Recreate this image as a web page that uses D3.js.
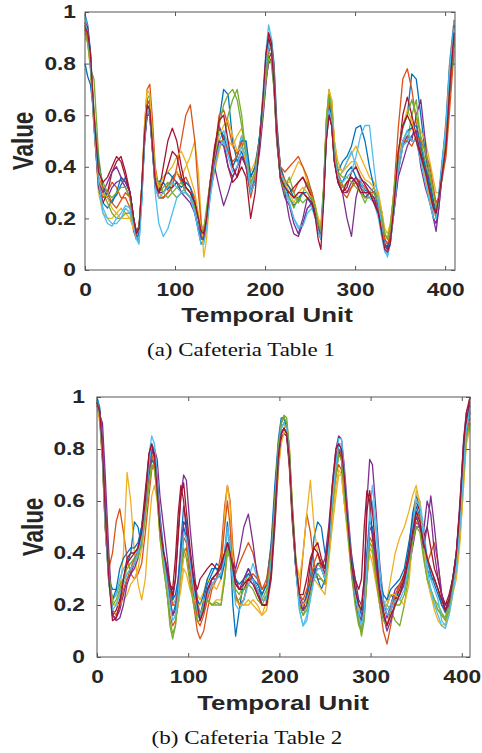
<!DOCTYPE html>
<html><head><meta charset="utf-8">
<script src="https://cdn.jsdelivr.net/npm/d3@7"></script>
<style>html,body{margin:0;padding:0;background:#fff;}svg{display:block;}</style>
</head><body>
<svg id="c" width="482" height="753"></svg>
<script>
const colors = ["#0072BD","#D95319","#EDB120","#7E2F8E","#77AC30","#4DBEEE","#A2142F"];
const yTicks = [0,0.2,0.4,0.6,0.8,1];
const yTickLabels = ["0","0.2","0.4","0.6","0.8","1"];
const xTicks = [0,100,200,300,400];
const xTickLabels = ["0","100","200","300","400"];
const xLabel = "Temporal Unit";
const yLabel = "Value";
const captionA = "(a) Cafeteria Table 1";
const captionB = "(b) Cafeteria Table 2";

// Panel (a): temporal positions
const xA = [0,3,6,10,15,20,25,30,35,40, 45,50,54,57,60,63,66,69,72,75, 78,82,87,92,97,102,107,112,117,122,
 126,129,132,135,139,144,149,154,159,164, 169,174,179,184,189,194,198,201,204,207, 210,213,217,222,227,232,237,242,247,252,
 256,259,262,265,268,271,274,277,281,286, 291,296,301,306,311,316,321,326,330,333, 336,339,343,348,353,358,363,368,373,378,
 383,387,390,393,397,401,405,410];
const seriesA = [
[.99,.95,.85,.6,.34,.26,.24,.27,.29,.33, .36,.3,.2,.12,.12,.28,.52,.64,.66,.52, .36,.32,.34,.31,.36,.38,.35,.3,.28,.22,
 .15,.1,.12,.18,.32,.45,.58,.7,.68,.5, .42,.46,.4,.3,.36,.52,.68,.8,.88,.9, .8,.58,.4,.33,.28,.25,.27,.3,.28,.25,
 .2,.15,.12,.28,.55,.66,.62,.44,.36,.34, .38,.4,.36,.33,.31,.3,.28,.22,.15,.1, .08,.12,.26,.45,.55,.6,.76,.74,.6,.45,
 .35,.27,.22,.26,.42,.55,.75,.95],
[.96,.92,.8,.55,.33,.28,.3,.34,.32,.28, .28,.24,.15,.12,.14,.32,.55,.7,.72,.58, .4,.32,.3,.33,.35,.38,.34,.36,.32,.28,
 .2,.14,.13,.2,.32,.46,.6,.62,.56,.48, .45,.52,.46,.3,.35,.48,.62,.76,.84,.88, .78,.56,.4,.35,.32,.3,.34,.36,.33,.29,
 .24,.18,.14,.3,.56,.68,.66,.5,.38,.33, .3,.32,.36,.34,.32,.3,.3,.28,.22,.14, .12,.16,.3,.55,.74,.78,.7,.58,.46,.38,
 .3,.24,.2,.26,.42,.58,.8,.97],
[.95,.9,.78,.56,.3,.22,.2,.2,.22,.24, .22,.2,.16,.14,.16,.3,.5,.6,.62,.5, .38,.3,.28,.3,.34,.38,.36,.4,.44,.5,
 .38,.2,.05,.12,.3,.38,.46,.52,.5,.48, .52,.55,.48,.38,.42,.5,.62,.74,.82,.84, .72,.52,.38,.34,.34,.38,.42,.4,.34,.3,
 .25,.2,.18,.32,.55,.64,.62,.5,.42,.38, .42,.45,.48,.44,.4,.36,.34,.3,.22,.16, .14,.18,.28,.45,.5,.52,.55,.58,.54,.5,
 .42,.35,.3,.3,.38,.5,.7,.9],
[.95,.92,.82,.58,.36,.3,.28,.32,.34,.35, .32,.28,.18,.14,.15,.3,.48,.6,.6,.46, .32,.28,.28,.3,.32,.34,.3,.3,.28,.24,
 .2,.16,.16,.22,.3,.4,.32,.25,.3,.36, .4,.44,.42,.36,.4,.5,.62,.74,.8,.82, .72,.52,.35,.28,.25,.18,.14,.2,.28,.26,
 .22,.16,.14,.28,.5,.6,.56,.42,.35,.3, .2,.13,.28,.35,.34,.32,.3,.25,.18,.12, .1,.12,.22,.38,.48,.52,.5,.6,.66,.5,
 .3,.2,.15,.24,.38,.48,.68,.88],
[.94,.88,.78,.74,.45,.3,.26,.22,.2,.2, .22,.22,.17,.14,.16,.3,.52,.66,.68,.52, .36,.3,.32,.34,.3,.28,.3,.32,.3,.26,
 .2,.14,.15,.22,.32,.42,.5,.5,.6,.66, .7,.6,.44,.32,.38,.52,.66,.78,.84,.84, .72,.52,.36,.32,.36,.3,.26,.3,.34,.3,
 .24,.18,.14,.3,.58,.7,.64,.48,.36,.32, .34,.36,.34,.3,.26,.3,.32,.28,.2,.14, .12,.16,.28,.4,.48,.5,.6,.66,.5,.42,
 .36,.3,.26,.28,.36,.48,.68,.9],
[.98,.94,.84,.58,.32,.22,.18,.17,.2,.22, .25,.24,.18,.12,.1,.26,.48,.62,.62,.48, .3,.18,.13,.16,.22,.28,.3,.32,.3,.24,
 .16,.12,.12,.18,.28,.4,.5,.54,.48,.4, .44,.52,.46,.32,.38,.52,.7,.85,.95,.9, .74,.52,.36,.3,.26,.2,.16,.18,.24,.25,
 .2,.15,.12,.3,.54,.64,.6,.44,.36,.38, .42,.46,.4,.35,.3,.28,.26,.2,.12,.07, .06,.1,.22,.38,.48,.5,.52,.54,.44,.36,
 .28,.22,.22,.3,.44,.56,.8,.96],
[.96,.94,.84,.56,.32,.26,.3,.38,.42,.44, .38,.3,.2,.15,.17,.32,.5,.62,.6,.46, .32,.3,.4,.5,.55,.5,.4,.32,.3,.26,
 .2,.16,.15,.22,.34,.48,.56,.5,.4,.34, .36,.44,.4,.3,.34,.48,.66,.82,.92,.88, .7,.5,.36,.3,.3,.32,.34,.36,.32,.28,
 .22,.16,.12,.3,.55,.62,.56,.42,.34,.3, .32,.38,.4,.36,.33,.3,.26,.22,.16,.1, .09,.12,.24,.44,.6,.67,.6,.52,.45,.4,
 .32,.26,.22,.28,.4,.5,.7,.9],
[.8,.75,.72,.6,.42,.32,.28,.26,.3,.36, .34,.3,.2,.13,.14,.28,.5,.62,.64,.5, .36,.34,.36,.38,.36,.34,.32,.34,.32,.26,
 .2,.13,.12,.18,.3,.42,.55,.52,.46,.4, .44,.5,.5,.36,.4,.52,.66,.8,.88,.86, .74,.54,.4,.34,.32,.28,.28,.3,.3,.27,
 .22,.17,.14,.3,.54,.64,.6,.46,.38,.42, .44,.48,.55,.56,.5,.4,.32,.24,.16,.1, .08,.12,.24,.4,.5,.54,.55,.56,.48,.4,
 .32,.26,.22,.28,.42,.55,.78,.95],
[.93,.9,.8,.58,.36,.32,.3,.26,.24,.27, .3,.28,.18,.14,.16,.3,.52,.66,.64,.5, .36,.28,.28,.3,.32,.4,.5,.6,.64,.5,
 .3,.18,.14,.2,.3,.4,.48,.5,.46,.42, .44,.5,.4,.28,.36,.5,.64,.8,.9,.86, .72,.52,.4,.38,.4,.42,.44,.4,.36,.3,
 .24,.17,.13,.28,.52,.66,.62,.46,.36,.3, .28,.32,.34,.32,.3,.3,.28,.24,.18,.12, .1,.14,.26,.4,.5,.5,.48,.52,.5,.46,
 .4,.32,.26,.28,.36,.44,.62,.85],
[.9,.88,.8,.56,.36,.3,.28,.24,.22,.2, .2,.2,.16,.14,.16,.32,.55,.7,.68,.52, .38,.32,.36,.38,.4,.44,.46,.42,.36,.3,
 .22,.16,.16,.22,.34,.44,.52,.56,.58,.52, .46,.48,.42,.34,.38,.5,.62,.74,.82,.82, .7,.52,.38,.34,.3,.26,.3,.32,.3,.28,
 .24,.2,.16,.3,.56,.7,.66,.5,.4,.38, .4,.42,.42,.38,.35,.34,.32,.28,.2,.14, .12,.16,.3,.44,.56,.62,.58,.5,.42,.36,
 .28,.2,.2,.26,.4,.52,.72,.9],
[.95,.93,.82,.58,.34,.3,.34,.38,.4,.36, .34,.3,.2,.15,.16,.3,.5,.6,.6,.46, .34,.3,.3,.32,.32,.34,.3,.28,.26,.22,
 .16,.12,.12,.18,.3,.42,.5,.48,.4,.36, .4,.44,.4,.3,.34,.46,.6,.72,.82,.84, .74,.54,.38,.3,.2,.14,.13,.18,.24,.26,
 .22,.17,.14,.28,.52,.62,.58,.44,.34,.3, .3,.34,.36,.32,.28,.3,.28,.22,.14,.09, .08,.1,.22,.36,.42,.48,.52,.54,.4,.32,
 .26,.2,.18,.24,.38,.5,.7,.92],
[.92,.88,.8,.62,.4,.34,.3,.28,.3,.32, .32,.28,.18,.14,.16,.3,.5,.64,.62,.48, .36,.34,.3,.28,.3,.32,.34,.3,.28,.24,
 .2,.15,.16,.24,.34,.44,.56,.64,.68,.7, .66,.56,.44,.34,.38,.5,.62,.74,.82,.8, .7,.5,.36,.3,.28,.24,.28,.26,.28,.28,
 .24,.18,.15,.32,.58,.68,.62,.46,.38,.36, .36,.34,.32,.3,.28,.28,.3,.26,.2,.14, .12,.16,.3,.46,.56,.6,.66,.6,.52,.46,
 .38,.3,.24,.28,.4,.52,.7,.88],
[.96,.92,.82,.56,.34,.24,.2,.18,.18,.2, .24,.22,.17,.12,.11,.26,.5,.62,.6,.46, .32,.28,.3,.32,.34,.32,.3,.3,.28,.22,
 .15,.1,.1,.16,.28,.4,.48,.5,.44,.38, .4,.48,.44,.3,.34,.5,.66,.8,.88,.86, .72,.52,.38,.32,.26,.2,.17,.17,.22,.24,
 .2,.15,.12,.28,.52,.62,.58,.44,.36,.34, .36,.38,.44,.52,.56,.56,.4,.26,.16,.08, .05,.1,.22,.4,.5,.54,.5,.5,.42,.34,
 .26,.2,.2,.28,.42,.56,.78,.94],
[.94,.92,.84,.6,.38,.34,.36,.4,.44,.42, .36,.3,.2,.14,.16,.32,.52,.64,.62,.48, .34,.3,.34,.4,.46,.44,.36,.32,.3,.26,
 .2,.15,.14,.2,.34,.46,.58,.6,.5,.4, .36,.4,.36,.2,.3,.5,.68,.84,.9,.86, .72,.52,.36,.32,.3,.28,.3,.3,.28,.26,
 .2,.12,.08,.26,.5,.6,.56,.42,.34,.3, .34,.36,.34,.3,.3,.3,.26,.22,.14,.08, .07,.1,.24,.46,.56,.6,.56,.5,.44,.38,
 .3,.24,.22,.28,.38,.48,.7,.92]
];

// Panel (b): temporal positions
const xB = [0,3,6,9,13,17,21,25,29,33, 37,41,45,49,53,57,60,63,66,69, 73,77,80,83,86,89,92,95,98,102,
 106,110,113,117,121,126,131,136,140,143, 146,149,152,156,161,166,171,176,181,186, 191,195,199,202,205,208,211,214,218,222,
 226,230,234,238,242,246,250,254,258,262, 265,268,271,275,279,283,287,290,293,296, 299,302,306,310,314,318,322,327,332,337,
 342,346,350,354,358,362,366,370,374,378, 382,386,390,394,398,402,405,409];
const seriesB = [
[1.0,.96,.82,.56,.3,.26,.26,.24,.3,.36, .4,.52,.5,.42,.55,.72,.8,.8,.68,.52, .4,.3,.22,.16,.2,.3,.44,.58,.52,.4,
 .3,.2,.16,.22,.28,.32,.36,.34,.4,.52, .4,.2,.08,.18,.3,.34,.3,.26,.24,.28, .44,.66,.84,.92,.92,.9,.76,.56,.35,.2,
 .18,.2,.3,.46,.52,.5,.4,.42,.58,.7, .78,.8,.7,.52,.36,.26,.2,.16,.22,.38, .5,.48,.36,.24,.18,.2,.24,.22,.24,.3,
 .42,.55,.62,.58,.46,.34,.3,.3,.26,.2, .17,.2,.28,.36,.52,.74,.9,.97],
[.98,.94,.8,.55,.34,.4,.52,.57,.48,.38, .32,.3,.32,.36,.48,.62,.72,.74,.66,.52, .36,.24,.16,.12,.14,.2,.3,.4,.42,.3,
 .2,.1,.07,.1,.18,.26,.3,.4,.58,.66, .6,.42,.32,.36,.4,.44,.4,.32,.26,.3, .42,.58,.78,.86,.86,.85,.72,.52,.34,.24,
 .4,.55,.48,.36,.3,.3,.28,.42,.58,.7, .74,.72,.6,.48,.34,.22,.14,.1,.16,.3, .42,.4,.3,.2,.1,.05,.12,.22,.28,.32,
 .38,.45,.52,.5,.42,.36,.4,.44,.36,.24, .18,.2,.28,.4,.56,.78,.9,.94],
[.97,.9,.75,.5,.28,.2,.2,.25,.4,.71, .6,.4,.28,.22,.3,.5,.62,.66,.6,.48, .38,.3,.25,.2,.22,.24,.3,.38,.4,.36,
 .3,.24,.22,.25,.3,.28,.26,.3,.55,.66, .58,.36,.24,.2,.2,.22,.2,.18,.16,.22, .36,.54,.74,.84,.88,.9,.8,.6,.38,.3,
 .4,.55,.68,.5,.4,.36,.32,.38,.5,.62, .7,.7,.6,.48,.38,.3,.2,.2,.25,.36, .42,.4,.3,.22,.2,.22,.3,.4,.46,.5,
 .56,.62,.66,.58,.42,.3,.24,.2,.18,.16, .15,.2,.26,.34,.46,.66,.84,.9],
[.97,.93,.9,.7,.4,.16,.15,.18,.24,.3, .32,.36,.42,.5,.6,.7,.78,.8,.76,.62, .5,.38,.28,.22,.3,.48,.62,.7,.68,.5,
 .35,.22,.16,.2,.26,.3,.3,.32,.36,.42, .4,.36,.34,.4,.5,.55,.44,.3,.22,.22, .34,.52,.74,.84,.86,.85,.74,.56,.36,.24,
 .2,.22,.28,.32,.34,.34,.38,.5,.66,.8, .85,.84,.74,.56,.4,.3,.22,.2,.3,.6, .76,.74,.56,.36,.22,.15,.2,.26,.28,.3,
 .34,.42,.5,.5,.48,.6,.55,.4,.3,.24, .2,.22,.3,.4,.6,.82,.92,.94],
[.98,.95,.82,.58,.32,.22,.24,.28,.3,.32, .34,.36,.4,.46,.56,.7,.76,.74,.64,.5, .36,.24,.12,.07,.12,.24,.36,.48,.46,.34,
 .24,.16,.15,.18,.22,.2,.2,.2,.3,.4, .38,.3,.26,.24,.28,.32,.3,.26,.22,.26, .38,.58,.82,.9,.93,.92,.8,.6,.38,.2,
 .16,.2,.28,.34,.36,.34,.3,.4,.56,.7, .78,.76,.66,.5,.34,.22,.14,.08,.14,.3, .44,.42,.32,.24,.2,.2,.18,.14,.12,.2,
 .32,.44,.55,.5,.4,.3,.26,.22,.2,.17, .15,.2,.26,.34,.5,.72,.86,.9],
[.99,.94,.78,.52,.28,.22,.24,.3,.34,.36, .36,.38,.42,.5,.62,.78,.85,.82,.7,.55, .42,.32,.24,.2,.22,.28,.4,.52,.5,.4,
 .3,.2,.16,.2,.26,.3,.32,.34,.4,.5, .44,.32,.24,.2,.22,.3,.36,.3,.24,.22, .36,.56,.78,.88,.9,.9,.78,.56,.34,.18,
 .12,.16,.24,.32,.36,.36,.34,.44,.62,.76, .84,.84,.72,.54,.38,.26,.18,.14,.2,.4, .56,.66,.52,.34,.22,.18,.2,.24,.24,.28,
 .36,.48,.56,.6,.5,.38,.3,.26,.22,.14, .12,.18,.26,.34,.5,.72,.9,.96],
[.98,.94,.8,.55,.3,.16,.18,.22,.3,.36, .38,.4,.42,.5,.64,.78,.82,.76,.64,.5, .4,.32,.28,.26,.38,.55,.66,.6,.48,.38,
 .3,.26,.3,.32,.34,.36,.34,.34,.4,.44, .4,.36,.3,.26,.26,.3,.3,.26,.2,.2, .34,.56,.8,.86,.88,.86,.74,.54,.34,.2,
 .18,.24,.36,.42,.44,.38,.34,.46,.62,.78, .8,.76,.66,.5,.38,.3,.26,.3,.5,.64, .6,.46,.34,.26,.2,.16,.18,.22,.26,.32,
 .4,.52,.6,.56,.46,.5,.42,.34,.3,.24, .2,.24,.3,.38,.54,.76,.9,1.0],
[.99,.92,.76,.5,.3,.22,.26,.34,.38,.4, .42,.42,.44,.5,.58,.7,.76,.74,.64,.5, .4,.34,.26,.22,.24,.3,.4,.5,.46,.36,
 .28,.22,.2,.24,.3,.34,.34,.3,.36,.44, .4,.34,.3,.28,.3,.32,.3,.28,.24,.28, .42,.62,.82,.9,.92,.88,.76,.55,.34,.22,
 .2,.24,.3,.34,.3,.26,.3,.44,.6,.74, .8,.78,.68,.52,.38,.26,.2,.18,.24,.4, .52,.5,.4,.3,.24,.22,.26,.28,.3,.34,
 .44,.52,.58,.54,.46,.38,.32,.28,.24,.2, .18,.22,.3,.4,.54,.74,.88,.94],
[.97,.92,.76,.5,.3,.18,.16,.2,.26,.3, .34,.38,.4,.46,.58,.72,.78,.74,.62,.48, .38,.3,.25,.2,.2,.26,.34,.46,.44,.34,
 .24,.14,.12,.16,.22,.28,.3,.36,.5,.6, .5,.3,.24,.2,.22,.3,.32,.3,.26,.28, .4,.6,.8,.88,.9,.88,.76,.56,.36,.24,
 .22,.26,.3,.36,.4,.34,.3,.46,.62,.76, .8,.78,.66,.5,.34,.22,.16,.14,.2,.34, .46,.44,.34,.22,.16,.12,.18,.24,.28,.3,
 .38,.48,.56,.54,.44,.38,.34,.3,.26,.22, .18,.2,.26,.34,.48,.7,.86,.92],
[.97,.92,.78,.52,.3,.22,.2,.2,.22,.24, .28,.3,.34,.42,.54,.66,.74,.72,.62,.46, .34,.26,.2,.16,.16,.2,.26,.34,.32,.26,
 .22,.2,.2,.22,.22,.2,.22,.22,.32,.42, .4,.3,.22,.2,.2,.2,.22,.2,.16,.18, .3,.5,.72,.82,.86,.88,.78,.58,.36,.22,
 .2,.22,.26,.3,.28,.26,.24,.36,.52,.66, .72,.7,.6,.46,.32,.22,.18,.2,.24,.32, .4,.36,.28,.2,.18,.2,.24,.24,.22,.2,
 .28,.46,.64,.6,.44,.3,.24,.18,.14,.12, .13,.16,.24,.3,.44,.66,.82,.88],
[.98,.95,.84,.6,.34,.16,.14,.15,.2,.28, .32,.34,.38,.46,.58,.72,.8,.78,.68,.54, .4,.3,.22,.16,.18,.26,.4,.52,.5,.38,
 .28,.18,.14,.18,.24,.3,.32,.34,.38,.44, .4,.34,.28,.26,.3,.34,.3,.24,.2,.2, .3,.5,.76,.86,.88,.86,.76,.58,.36,.22,
 .18,.2,.26,.32,.36,.36,.32,.42,.6,.76, .82,.8,.7,.52,.34,.22,.16,.14,.2,.38, .5,.48,.36,.24,.16,.1,.14,.2,.24,.28,
 .36,.46,.54,.5,.42,.5,.62,.5,.36,.24, .18,.2,.28,.4,.58,.84,.94,.98],
[.98,.93,.8,.56,.32,.2,.22,.26,.3,.34, .36,.38,.38,.44,.54,.66,.74,.72,.62,.46, .34,.24,.14,.09,.12,.22,.34,.42,.38,.28,
 .2,.14,.14,.2,.22,.2,.21,.2,.3,.42, .38,.28,.22,.22,.26,.28,.26,.22,.2,.24, .38,.6,.82,.9,.92,.9,.8,.58,.36,.2,
 .16,.18,.24,.3,.32,.3,.28,.4,.58,.72, .78,.76,.64,.48,.32,.2,.12,.1,.16,.32, .44,.42,.3,.2,.14,.12,.16,.2,.2,.24,
 .34,.44,.5,.48,.38,.3,.26,.22,.18,.16, .14,.18,.26,.34,.5,.7,.84,.9],
[.99,.93,.78,.52,.28,.18,.2,.24,.28,.32, .34,.36,.4,.46,.58,.74,.82,.8,.66,.52, .38,.28,.2,.14,.16,.24,.36,.48,.46,.36,
 .26,.18,.14,.18,.24,.28,.3,.32,.38,.48, .44,.3,.2,.18,.22,.28,.3,.26,.22,.22, .36,.56,.78,.88,.9,.88,.76,.56,.34,.18,
 .12,.14,.22,.3,.34,.34,.3,.42,.6,.74, .82,.82,.7,.52,.36,.24,.16,.12,.18,.36, .5,.6,.48,.3,.2,.16,.18,.22,.22,.26,
 .36,.5,.6,.58,.46,.34,.26,.2,.16,.12, .11,.16,.24,.34,.5,.72,.88,.95],
[.98,.94,.8,.56,.3,.14,.15,.2,.3,.38, .4,.4,.42,.48,.6,.78,.82,.78,.64,.5, .4,.34,.28,.24,.3,.46,.62,.67,.56,.42,
 .3,.2,.14,.18,.26,.3,.32,.36,.4,.44, .4,.34,.28,.26,.28,.3,.28,.24,.2,.2, .32,.54,.78,.86,.88,.86,.76,.56,.36,.24,
 .24,.3,.38,.42,.4,.36,.34,.46,.66,.8, .82,.8,.7,.52,.36,.26,.2,.18,.3,.56, .64,.56,.4,.26,.18,.12,.16,.2,.24,.3,
 .38,.48,.56,.52,.44,.38,.34,.3,.26,.22, .18,.22,.3,.4,.58,.82,.94,1.0]
];

const svg = d3.select("#c");
const SX = 1.23;            // horizontal stretch of the reference lettering
const ink = "#262626";

function panel(p) {
  const x = d3.scaleLinear().domain([0, p.xmax]).range([p.left, p.right]);
  const y = d3.scaleLinear().domain([0, 1]).range([p.bottom, p.top]);
  const g = svg.append("g");

  const line = d3.line().x(d => x(d[0])).y(d => y(d[1]));
  p.series.forEach((s, i) => {
    const pts = p.xs.map((xv, j) => [xv, s[j]]).filter(d => d[1] != null);
    g.append("path").attr("d", line(pts)).attr("fill", "none")
      .attr("stroke", colors[i % colors.length]).attr("stroke-width", 1.3)
      .attr("stroke-linejoin", "round");
  });

  const tl = 4;
  const styleAxis = sel => { sel.select(".domain").remove(); sel.selectAll("line").attr("stroke", "#555"); };
  const bottom = g.append("g").attr("transform", `translate(0,${p.bottom})`)
    .call(d3.axisBottom(x).tickValues(xTicks).tickSize(-tl).tickPadding(13)
      .tickFormat((d, i) => xTickLabels[i]));
  styleAxis(bottom);
  bottom.selectAll("text").attr("fill", ink).attr("font-family", "Liberation Sans, Arial, sans-serif")
    .attr("font-weight", "bold").attr("font-size", 18.5).attr("transform", `scale(${SX},1)`);

  const left = g.append("g").attr("transform", `translate(${p.left},0)`)
    .call(d3.axisLeft(y).tickValues(yTicks).tickSize(-tl).tickPadding(p.ygap / SX)
      .tickFormat((d, i) => yTickLabels[i]));
  styleAxis(left);
  left.selectAll("text").attr("fill", ink).attr("font-family", "Liberation Sans, Arial, sans-serif")
    .attr("font-weight", "bold").attr("font-size", 18.5).attr("transform", `scale(${SX},1)`);

  const top = g.append("g").attr("transform", `translate(0,${p.top})`)
    .call(d3.axisTop(x).tickValues(xTicks).tickSize(-tl).tickFormat(""));
  styleAxis(top);
  const right = g.append("g").attr("transform", `translate(${p.right},0)`)
    .call(d3.axisRight(y).tickValues(yTicks).tickSize(-tl).tickFormat(""));
  styleAxis(right);

  g.append("rect").attr("x", p.left).attr("y", p.top)
    .attr("width", p.right - p.left).attr("height", p.bottom - p.top)
    .attr("fill", "none").attr("stroke", "#555").attr("stroke-width", 1);

  g.append("text").text(xLabel)
    .attr("transform", `translate(${p.xlabX},${p.xlabY}) scale(${SX},1)`)
    .attr("text-anchor", "middle").attr("fill", ink)
    .attr("font-family", "Liberation Sans, Arial, sans-serif").attr("font-weight", "bold").attr("font-size", 21);

  g.append("text").text(yLabel)
    .attr("transform", `translate(${p.ylabX},${(p.top + p.bottom) / 2}) scale(1.3,1) rotate(-90)`)
    .attr("text-anchor", "middle").attr("fill", ink)
    .attr("font-family", "Liberation Sans, Arial, sans-serif").attr("font-weight", "bold").attr("font-size", 22.5);

  const cap = g.append("text").text(p.caption)
    .attr("text-anchor", "middle").attr("fill", "#111")
    .attr("font-family", "Liberation Serif, Times New Roman, serif").attr("font-size", 18);
  const w = cap.node().getComputedTextLength();
  const s = p.capW / w;
  cap.attr("transform", `translate(${p.capX},${p.capY}) scale(${s},1)`);
}

panel({ xs: xA, series: seriesA, xmax: 411, left: 85, right: 455, top: 12, bottom: 270,
  ygap: 9, xlabX: 267, xlabY: 322, ylabX: 33, caption: captionA, capX: 241, capY: 356, capW: 188 });
panel({ xs: xB, series: seriesB, xmax: 409, left: 97, right: 470, top: 397, bottom: 657,
  ygap: 12, xlabX: 283, xlabY: 710, ylabX: 43, caption: captionB, capX: 247, capY: 744, capW: 191 });
</script>
</body></html>
